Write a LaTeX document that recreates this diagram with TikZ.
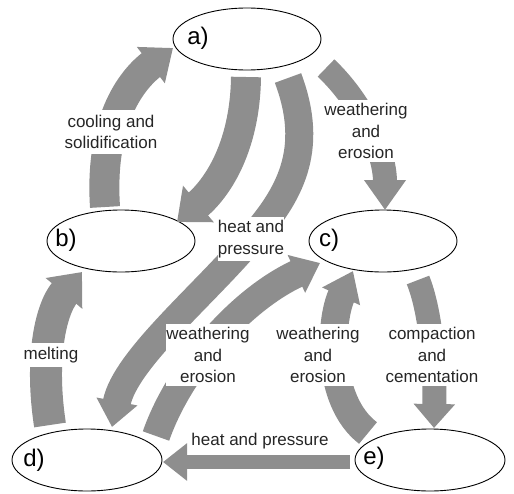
\documentclass[tikz,border=0pt]{standalone}
\usepackage{fontspec}
\setmainfont{Liberation Sans}
\usetikzlibrary{arrows.meta,calc,shapes.geometric}
\definecolor{arrgray}{HTML}{8E8E8E}
\begin{document}
\begin{tikzpicture}[x=1pt,y=-1pt,
  rock/.style={ellipse, draw=black, line width=0.9pt, fill=white,
    minimum width=148pt, minimum height=62pt, inner sep=0pt},
  tag/.style={font=\fontsize{24}{28}\selectfont, inner sep=0pt},
  lbl/.style={fill=white, align=center, inner xsep=0pt, inner ysep=3pt,
    font=\fontsize{17}{21.5}\selectfont, text=black!85},
  flow/.style n args={3}{draw=arrgray, line width=#1,
    -{Triangle[length=#2,width=#3]}}]
\useasboundingbox (0,0) rectangle (514,493);
% rocks
\node[rock] (a) at (247,39) {};
\node[rock] (b) at (121,241) {};
\node[rock] (c) at (383,241) {};
\node[rock, minimum width=150pt] (d) at (87,460) {};
\node[rock, minimum width=150pt] (e) at (430,460) {};
\node[tag] (ta) at (198,38) {a)};
\node[tag] (tb) at (66,240) {b)};
\node[tag] (tc) at (329,240) {c)};
\node[tag] (td) at (34,460) {d)};
\node[tag] (te) at (374,458) {e)};
% arrows
\draw[flow={30pt}{28pt}{44pt}] ($(b)+(-16,-34)$) .. controls ($(b)+(-21,-111)$) and ($(a)+(-122,46)$) .. ($(a)+(-74,9)$);
\draw[flow={30pt}{28pt}{46pt}] ($(a)+(-1,38)$) .. controls ($(a)+(-2,111)$) and ($(b)+(94,-51)$) .. ($(b)+(56,-19)$);
\draw[flow={28pt}{26pt}{40pt}] ($(a)+(41,39)$) .. controls ($(a)+(68,111)$) and ($(a)+(43,156)$) .. ($(a)+(3,201)$)
  .. controls ($(d)+(118,-166)$) and ($(d)+(38,-100)$) .. ($(d)+(25,-33)$);
\draw[flow={24pt}{30pt}{40pt}] ($(a)+(79,29)$) .. controls ($(a)+(113,61)$) and ($(c)+(2,-91)$) .. ($(c)+(2,-31)$);
\draw[flow={28pt}{26pt}{40pt}] ($(d)+(69,-24)$) .. controls ($(d)+(92,-90)$) and ($(c)+(-143,59)$) .. ($(c)+(-63,22)$);
\draw[flow={28pt}{28pt}{40pt}] ($(e)+(-62,-27)$) .. controls ($(e)+(-105,-60)$) and ($(c)+(-53,79)$) .. ($(c)+(-30,30)$);
\draw[flow={24pt}{24pt}{40pt}] ($(c)+(35,39)$) .. controls ($(c)+(47,69)$) and ($(e)+(5,-100)$) .. ($(e)+(4,-32)$);
\draw[flow={14pt}{24pt}{36pt}] ($(e)+(-80,2)$) -- ($(d)+(76,2)$);
\draw[flow={32pt}{28pt}{46pt}] ($(d)+(-37,-35)$) .. controls ($(d)+(-47,-100)$) and ($(b)+(-71,69)$) .. ($(b)+(-39,31)$);
% labels
\node[lbl, inner ysep=5pt] (l1) at (111,132) {cooling and\\solidification};
\node[lbl] (l2) at (251,239) {heat and\\pressure};
\node[lbl] (l3) at (366,131) {weathering\\and\\erosion};
\node[lbl] (l4) at (208,355) {weathering\\and\\erosion};
\node[lbl] (l5) at (318,355) {weathering\\and\\erosion};
\node[lbl] (l6) at (432,355) {compaction\\and\\cementation};
\node[lbl] (l7) at (260,441) {heat and pressure};
\node[lbl, inner ysep=4pt] (l8) at (51,355) {melting};
\end{tikzpicture}
\end{document}
